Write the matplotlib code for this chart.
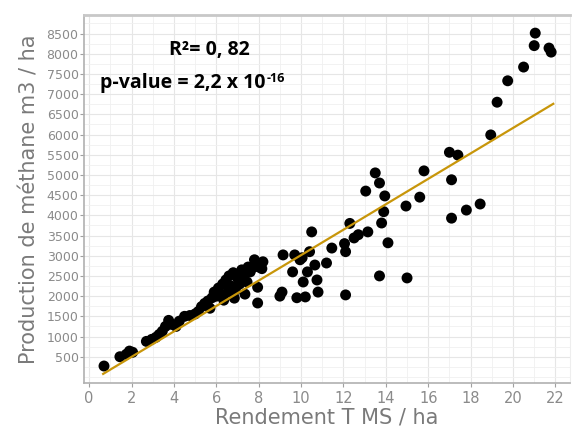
import matplotlib
matplotlib.use("Agg")
import matplotlib.pyplot as plt
from matplotlib.ticker import MultipleLocator

# ---- data ----
rendement = [0.7, 1.45, 1.75, 1.9, 2.05, 2.7, 2.95, 3.15, 3.3, 3.45, 3.6, 3.75, 3.9, 4.1, 4.25,
             4.5, 4.75, 5.0, 5.15, 5.3, 5.45, 5.6, 5.7, 5.8, 5.9, 6.0, 6.1, 6.2, 6.3, 6.35,
             6.45, 6.55, 6.6, 6.7, 6.8, 6.85, 6.9, 7.0, 7.1, 7.2, 7.3, 7.35, 7.45, 7.5, 7.6,
             7.7, 7.8, 7.9, 8.0, 8.15, 7.95, 7.95, 8.2,
             9.0, 9.1, 9.15, 9.6, 9.7, 9.8, 9.95, 10.05, 10.1, 10.2, 10.3, 10.4, 10.5, 10.65,
             10.75, 10.8, 11.2, 11.45, 12.05, 12.1, 12.1, 12.3, 12.5, 12.7, 13.15, 13.05,
             13.5, 13.7, 13.95, 13.9, 13.8, 14.1, 13.7, 15.0, 14.95, 15.6, 15.8, 17.0, 17.4,
             17.1, 17.1, 17.8, 18.45, 18.95, 19.25, 19.75, 20.5, 21.0, 21.05, 21.7, 21.8]
methane = [270, 500, 560, 640, 610, 880, 930, 980, 1050, 1130, 1250, 1400, 1300, 1250, 1380,
           1500, 1520, 1560, 1620, 1740, 1820, 1880, 1700, 1960, 2100, 2000, 2200, 2050, 2300, 1900,
           2400, 2100, 2500, 2250, 2580, 1950, 2150, 2450, 2300, 2650, 2500, 2050, 2350, 2720, 2600,
           2700, 2900, 2800, 2720, 2680, 2220, 1830, 2850,
           2000, 2100, 3020, 2600, 3020, 1960, 2900, 2950, 2350, 1980, 2600, 3100, 3590, 2770,
           2400, 2100, 2820, 3190, 3300, 3100, 2030, 3800, 3440, 3520, 3590, 4600,
           5050, 4800, 4480, 4090, 3810, 3320, 2500, 2450, 4230, 4450, 5100, 5560, 5490,
           4880, 3930, 4130, 4280, 5990, 6800, 7330, 7670, 8200, 8510, 8140, 8040]
fit_x = [0.66, 21.9]
fit_y = [75, 6760]
x_ticks = [0, 2, 4, 6, 8, 10, 12, 14, 16, 18, 20, 22]
y_ticks = [500, 1000, 1500, 2000, 2500, 3000, 3500, 4000, 4500, 5000, 5500, 6000, 6500, 7000, 7500, 8000, 8500]
r2_text = "R²= 0, 82"
p_text = "p-value = 2,2 x 10"
p_exp = "-16"
x_label = "Rendement T MS / ha"
y_label = "Production de méthane m3 / ha"

fig = plt.figure(figsize=(5.72, 4.33), dpi=100)
ax = fig.add_axes([0.147, 0.1155, 0.8495, 0.85])
ax.set_xlim(-0.24, 22.69)
ax.set_ylim(-150, 8960)

ax.xaxis.set_major_locator(plt.FixedLocator(x_ticks))
ax.yaxis.set_major_locator(plt.FixedLocator(y_ticks))
ax.xaxis.set_minor_locator(MultipleLocator(1))
ax.yaxis.set_minor_locator(MultipleLocator(250))
ax.grid(which="major", color="#e6e6e6", linewidth=0.8)
ax.grid(which="minor", color="#f0f0f0", linewidth=0.6)
ax.set_axisbelow(True)

ax.scatter(rendement, methane, s=62, color="black", edgecolors="none", zorder=3)
ax.plot(fit_x, fit_y, color="#c8960a", linewidth=1.6, zorder=4)

for side in ["left", "bottom", "top"]:
    ax.spines[side].set_color("#b0b0b0")
    ax.spines[side].set_linewidth(1.2)
ax.spines["top"].set_linewidth(2.0)
ax.spines["top"].set_color("#c8c8c8")
ax.spines["right"].set_color("#eeeeee")

ax.tick_params(axis="y", labelsize=9, labelcolor="#8a8a8a", color="#a0a0a0", length=3, pad=1)
ax.tick_params(axis="x", labelsize=10.5, labelcolor="#8a8a8a", color="#a0a0a0", length=3, pad=3)
ax.tick_params(which="minor", length=0)

ax.set_xlabel(x_label, fontsize=15, color="#7a7a7a", labelpad=1)
ax.set_ylabel(y_label, fontsize=15, color="#7a7a7a", labelpad=5)

fam = ["Open Sans", "DejaVu Sans"]
ax.text(0.257, 0.905, r2_text, transform=ax.transAxes, ha="center", va="center",
        fontsize=14, fontweight="bold", family=fam, color="black")
t = ax.text(0.033, 0.815, p_text, transform=ax.transAxes, ha="left", va="center",
            fontsize=14, fontweight="bold", family=fam, color="black")
fig.canvas.draw()
bb = t.get_window_extent(renderer=fig.canvas.get_renderer())
x_end, y_top = ax.transAxes.inverted().transform((bb.x1, bb.y1))
ax.text(x_end + 0.002, y_top + 0.002, p_exp, transform=ax.transAxes, ha="left", va="top",
        fontsize=9, fontweight="bold", family=fam, color="black")

fig.savefig("out.png", dpi=100)
